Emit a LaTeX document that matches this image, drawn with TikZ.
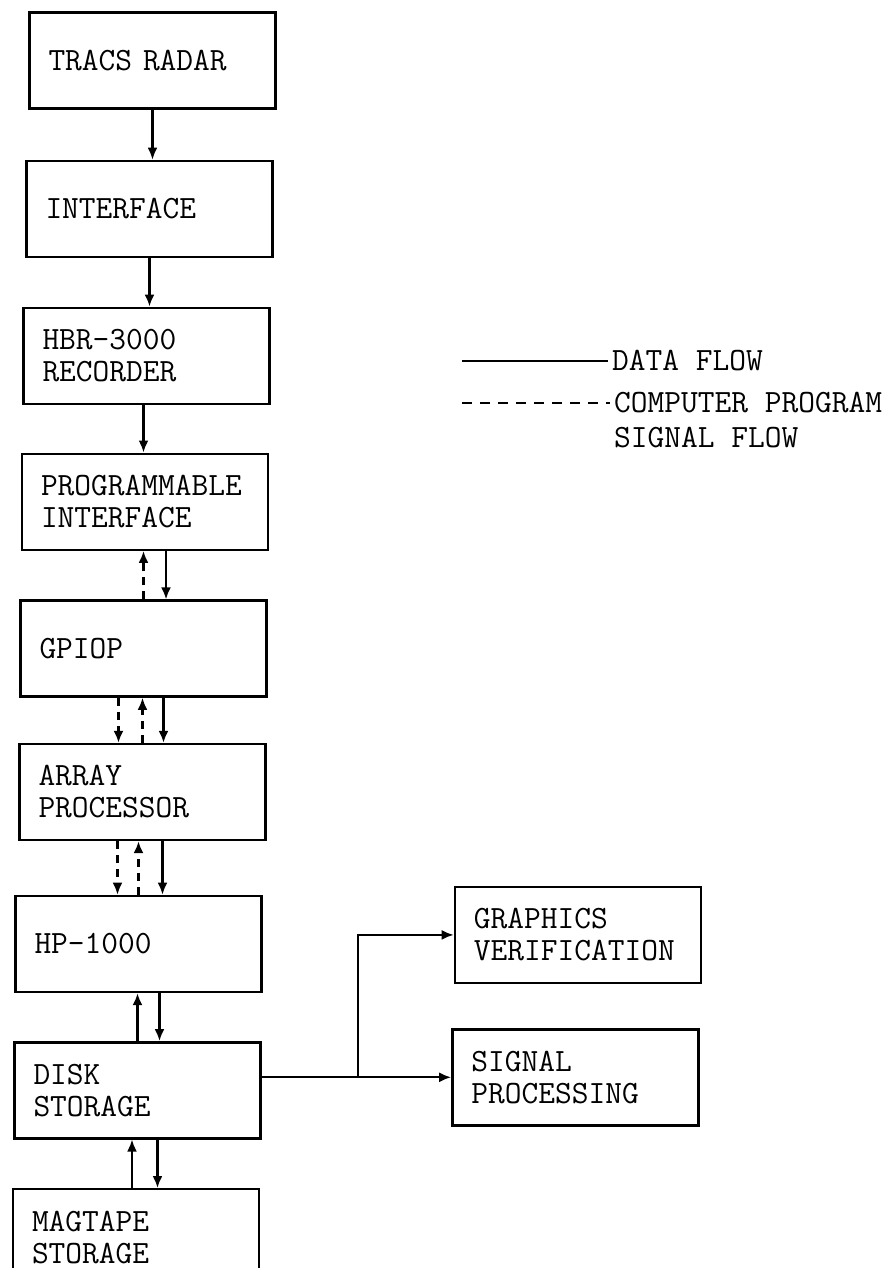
\documentclass[tikz,border=0pt]{standalone}
\usetikzlibrary{arrows.meta, positioning}

\begin{document}
\begin{tikzpicture}[
  block/.style={draw, line width=2.4pt, minimum width=246pt, minimum height=96pt,
    text width=208pt, inner xsep=19pt, align=left,
    font=\ttfamily\fontsize{32.5pt}{32pt}\selectfont},
  flow/.style={-{Latex[length=12pt,width=10pt]}, line width=2.3pt},
  prog/.style={flow, dash pattern=on 8pt off 6pt},
  legend/.style={inner sep=0pt, font=\ttfamily\fontsize{32.5pt}{32pt}\selectfont}
]
\useasboundingbox (0,0) rectangle (885pt,-1268pt);

\node[block] (radar) at (152.5pt,-60.5pt) {TRACS RADAR};
\node[block, below=50pt of radar, xshift=-3pt] (iface) {INTERFACE};
\node[block, below=48.5pt of iface, xshift=-3pt] (hbr) {HBR-3000\\RECORDER};
\node[block, below=47.5pt of hbr, xshift=-1.5pt] (pif) {PROGRAMMABLE\\INTERFACE};
\node[block, below=48.5pt of pif, xshift=-1.5pt] (gpiop) {GPIOP};
\node[block, below=45pt of gpiop, xshift=-1pt] (array) {ARRAY\\PROCESSOR};
\node[block, below=53.5pt of array, xshift=-4pt] (hp) {HP-1000};
\node[block, below=48pt of hp, xshift=-1pt] (disk) {DISK\\STORAGE};
\node[block, below=48.5pt of disk, xshift=-1.5pt] (tape) {MAGTAPE\\STORAGE};
\node[block, right=191pt of hp, yshift=9pt] (graph) {GRAPHICS\\VERIFICATION};
\node[block, below=44pt of graph, xshift=-2.5pt] (sigp) {SIGNAL\\PROCESSING};

\draw[flow] (radar.south) -- (radar.south |- iface.north);
\draw[flow] (iface.south) -- (iface.south |- hbr.north);
\draw[flow] ([xshift=-3pt]hbr.south) -- ([xshift=-3pt]hbr.south |- pif.north);

\draw[prog] (gpiop.north) -- (gpiop.north |- pif.south);
\draw[flow] ([xshift=21pt]pif.south) -- ([xshift=21pt]pif.south |- gpiop.north);

\draw[prog] ([xshift=-25pt]gpiop.south) -- ([xshift=-25pt]gpiop.south |- array.north);
\draw[prog] (array.north) -- (array.north |- gpiop.south);
\draw[flow] ([xshift=20pt]gpiop.south) -- ([xshift=20pt]gpiop.south |- array.north);

\draw[prog] ([xshift=-25pt]array.south) -- ([xshift=-25pt]array.south |- hp.north);
\draw[prog] (hp.north) -- (hp.north |- array.south);
\draw[flow] ([xshift=20pt]array.south) -- ([xshift=20pt]array.south |- hp.north);

\draw[flow] (disk.north) -- (disk.north |- hp.south);
\draw[flow] ([xshift=21pt]hp.south) -- ([xshift=21pt]hp.south |- disk.north);

\draw[flow] ([xshift=-4pt]tape.north) -- ([xshift=-4pt]tape.north |- disk.south);
\draw[flow] ([xshift=20pt]disk.south) -- ([xshift=20pt]disk.south |- tape.north);

\path (disk.east |- sigp.west) ++(96pt,0) coordinate (split);
\draw[flow] (disk.east |- sigp.west) -- (sigp.west);
\draw[flow] (split) |- (graph.west);

\coordinate (keyA) at (462pt,-361pt);
\coordinate (keyB) at (608pt,-361pt);
\draw[line width=2.3pt] (keyA) -- (keyB);
\node[legend, right=4pt of keyB] (datatxt) {DATA FLOW};
\coordinate (keyC) at (462pt,-403pt);
\coordinate (keyD) at (610pt,-403pt);
\draw[line width=2.3pt, dash pattern=on 10pt off 8pt] (keyC) -- (keyD);
\node[legend, right=4pt of keyD] (cptxt) {COMPUTER PROGRAM};
\node[legend, below=13pt of cptxt.south west, anchor=north west] (sftxt) {SIGNAL FLOW};
\end{tikzpicture}
\end{document}
